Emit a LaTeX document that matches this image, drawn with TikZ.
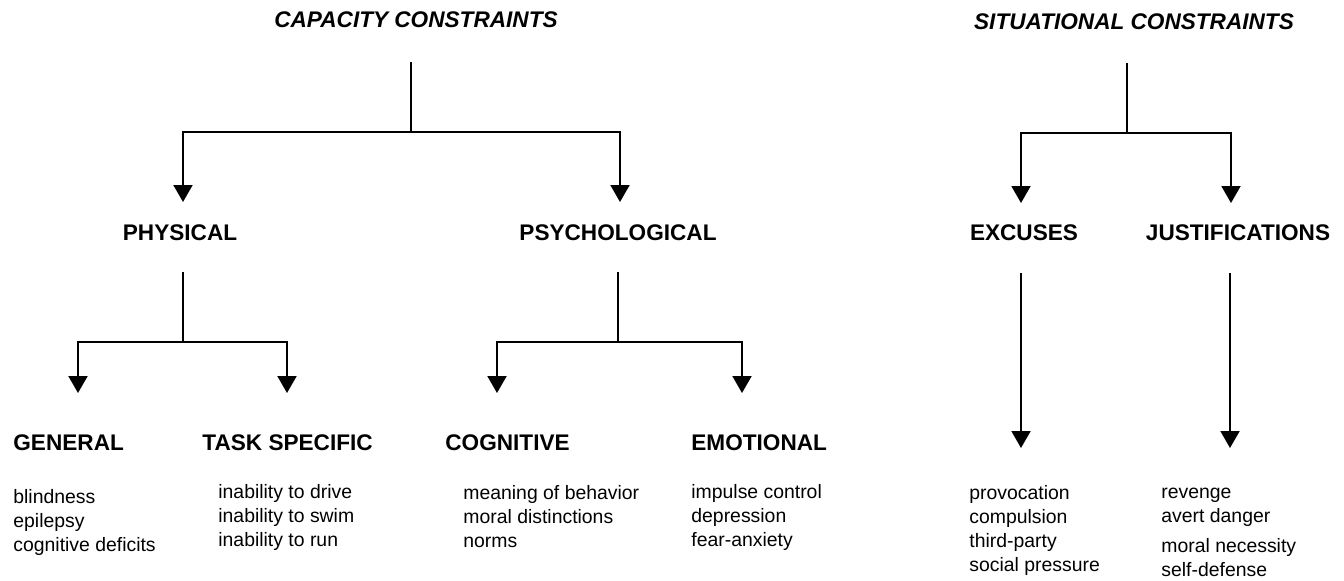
\documentclass[tikz,border=0pt]{standalone}
\usepackage{fontspec}
\setmainfont{Liberation Sans}
\usetikzlibrary{arrows.meta}

\begin{document}
\begin{tikzpicture}[x=0.5pt,y=-0.5pt]
      %styles for labels and branches
      \tikzset{
      head/.style={font=\bfseries\fontsize{11.3}{13}\selectfont, inner sep=0pt},
      title/.style={inner sep=0pt, font=\bfseries\itshape\fontsize{11.3}{13}\selectfont},
      items/.style={font=\fontsize{9.7}{12}\selectfont, align=left, anchor=west, inner sep=0pt},
      tree/.style={line width=1pt},
      down/.style={tree, -{Triangle[width=9.5pt,length=8.5pt]}},
      }
      \useasboundingbox (0,0) rectangle (1344,580);

      %Capacity constraints
      \node[title] (cap) at (416,20) {CAPACITY CONSTRAINTS};
      \coordinate (capt) at (411,62);
      \coordinate (capj) at (411,132);
      \coordinate (physa) at (183,202);
      \coordinate (psycha) at (620,202);
      \draw[tree] (capt) -- (capj);
      \draw[down] (capj) -| (physa);
      \draw[down] (capj) -| (psycha);
      \node[head] (phys) at (180,233) {PHYSICAL};
      \node[head] (psych) at (618,233) {PSYCHOLOGICAL};

      %Physical
      \coordinate (physt) at (183,272);
      \coordinate (physj) at (183,342);
      \coordinate (gena) at (78,393);
      \coordinate (taska) at (287,393);
      \draw[tree] (physt) -- (physj);
      \draw[down] (physj) -| (gena);
      \draw[down] (physj) -| (taska);
      \node[head, anchor=west] (gen) at (13,443) {GENERAL};
      \node[head, anchor=west] (task) at (202,443) {TASK SPECIFIC};
      \node[items] (genl) at (13,522) {blindness\\ epilepsy\\ cognitive deficits};
      \node[items] (taskl) at (218,517) {inability to drive\\ inability to swim\\ inability to run};

      %Psychological
      \coordinate (psycht) at (618,272);
      \coordinate (psychj) at (618,342);
      \coordinate (coga) at (497,393);
      \coordinate (emoa) at (742,393);
      \draw[tree] (psycht) -- (psychj);
      \draw[down] (psychj) -| (coga);
      \draw[down] (psychj) -| (emoa);
      \node[head, anchor=west] (cog) at (445,443) {COGNITIVE};
      \node[head, anchor=west] (emo) at (691,443) {EMOTIONAL};
      \node[items] (cogl) at (463,517) {meaning of behavior\\ moral distinctions\\ norms};
      \node[items] (emol) at (691,517) {impulse control\\ depression\\ fear-anxiety};

      %Situational constraints
      \node[title] (sit) at (1134,22) {SITUATIONAL CONSTRAINTS};
      \coordinate (sitt) at (1127,63);
      \coordinate (sitj) at (1127,133);
      \coordinate (exca) at (1021,203);
      \coordinate (justa) at (1231,203);
      \draw[tree] (sitt) -- (sitj);
      \draw[down] (sitj) -| (exca);
      \draw[down] (sitj) -| (justa);
      \node[head] (exc) at (1024,233) {EXCUSES};
      \node[head] (just) at (1238,233) {JUSTIFICATIONS};

      %Excuses and justifications
      \coordinate (exct) at (1021,273);
      \coordinate (excb) at (1021,448);
      \coordinate (justt) at (1230,273);
      \coordinate (justb) at (1230,448);
      \draw[down] (exct) -- (excb);
      \draw[down] (justt) -- (justb);
      \node[items] (excl) at (969,530) {provocation\\ compulsion\\ third-party\\ social pressure};
      \node[items] (justl) at (1161,532) {revenge\\ avert danger\\[3pt] moral necessity\\ self-defense};
\end{tikzpicture}
\end{document}
